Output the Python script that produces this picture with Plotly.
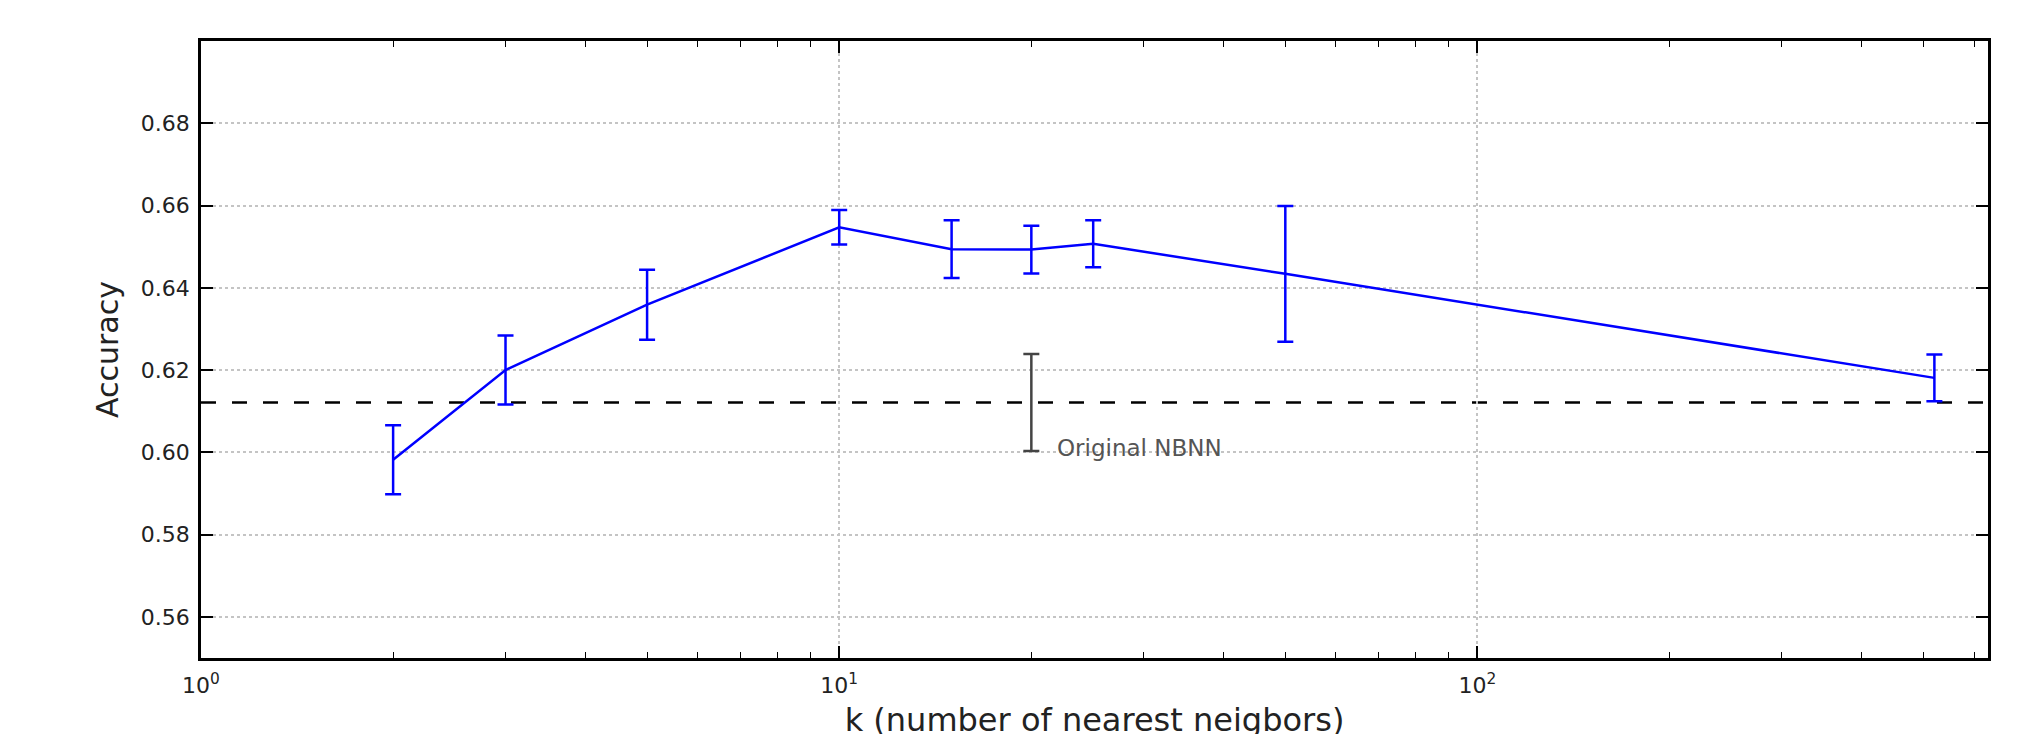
import math
import plotly.graph_objects as go

# ---- data ----
k_values = [2, 3, 5, 10, 15, 20, 25, 50, 520]
accuracy = [0.5982, 0.6200, 0.6359, 0.6547, 0.6494, 0.6493, 0.6507, 0.6434, 0.6181]
acc_err = [0.0084, 0.0084, 0.0085, 0.0042, 0.0070, 0.0058, 0.0057, 0.0165, 0.0057]

nbnn_k = [20]
nbnn_acc = [0.6121]
nbnn_err = [0.0118]
nbnn_label = "Original NBNN"

x_tickvals = [1, 10, 100]
x_ticktext = ["10<sup>0</sup>", "10<sup>1</sup>", "10<sup>2</sup>"]
x_minor = [2, 3, 4, 5, 6, 7, 8, 9, 20, 30, 40, 50, 60, 70, 80, 90, 200, 300, 400, 500, 600]
y_tickvals = [0.56, 0.58, 0.60, 0.62, 0.64, 0.66, 0.68]

x_title = "k (number of nearest neigbors)"
y_title = "Accuracy"

FONT = "DejaVu Sans"

fig = go.Figure()

fig.add_trace(go.Scatter(
    x=k_values, y=accuracy, mode="lines",
    line=dict(color="#0000ff", width=2.5),
    error_y=dict(type="data", array=acc_err, visible=True,
                 color="#0000ff", thickness=2.5, width=8),
    showlegend=False, hoverinfo="x+y",
))

fig.add_trace(go.Scatter(
    x=nbnn_k, y=nbnn_acc, mode="lines",
    line=dict(color="#444444", width=2.5),
    error_y=dict(type="data", array=nbnn_err, visible=True,
                 color="#444444", thickness=2.5, width=8),
    showlegend=False, hoverinfo="x+y",
))

fig.add_shape(type="line", xref="paper", x0=0, x1=1, yref="y",
              y0=nbnn_acc[0], y1=nbnn_acc[0], layer="between",
              line=dict(color="black", width=2.5, dash="15px,16px"))

fig.add_annotation(x=math.log10(nbnn_k[0]), y=nbnn_acc[0] - nbnn_err[0],
                   text=nbnn_label, showarrow=False, xanchor="left",
                   yanchor="middle", xshift=24, yshift=3,
                   font=dict(family=FONT, size=23, color="#555555"))

axis_common = dict(
    showline=True, linecolor="black", linewidth=2.5, mirror="allticks",
    ticks="inside", ticklen=12, tickwidth=1.5, tickcolor="black",
    showgrid=True, gridcolor="#c4c4c4", gridwidth=1.5, griddash="dot",
    zeroline=False,
    tickfont=dict(family=FONT, size=22, color="#222222"),
)

fig.update_xaxes(
    type="log", range=[0, 2.8],
    tickmode="array", tickvals=x_tickvals, ticktext=x_ticktext,
    minor=dict(tickmode="array", tickvals=x_minor, ticks="inside",
               ticklen=6, tickwidth=1.2, tickcolor="black", showgrid=False),
    title=dict(text=x_title, font=dict(family=FONT, size=32, color="#222222"),
               standoff=12),
    ticklabelstandoff=6,
    **axis_common,
)
fig.update_yaxes(
    range=[0.55, 0.70],
    tickmode="array", tickvals=y_tickvals, tickformat=".2f",
    title=dict(text=y_title, font=dict(family=FONT, size=30, color="#222222"),
               standoff=14),
    ticklabelstandoff=4,
    **axis_common,
)

fig.update_layout(
    width=2033, height=734,
    margin=dict(l=193, r=53, t=33, b=84, autoexpand=False),
    plot_bgcolor="white", paper_bgcolor="white",
    font=dict(family=FONT),
)

fig.write_html("out.html")
